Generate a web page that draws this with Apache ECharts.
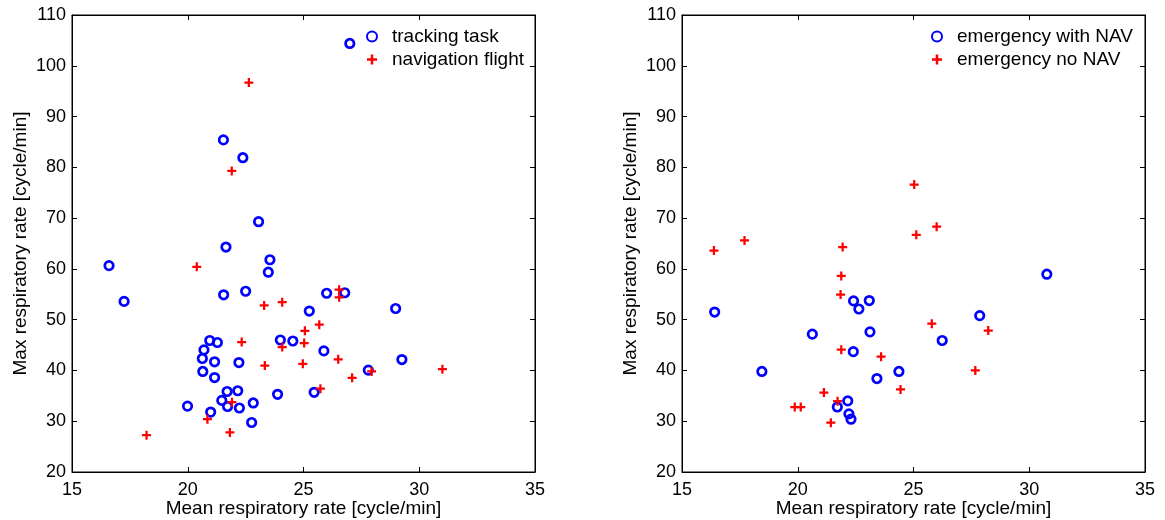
<!DOCTYPE html>
<html>
<head>
<meta charset="utf-8">
<script src="https://cdn.jsdelivr.net/npm/echarts@6/dist/echarts.min.js"></script>
<style>
html,body{margin:0;padding:0;background:#fff;}
#main{width:1165px;height:520px;}
</style>
</head>
<body>
<div id="main"></div>
<script>
// 数据: [平均呼吸频率, 最大呼吸频率]
var trackingTask = [
    [27.0,104.4],[21.54,85.4],[22.38,81.9],[23.06,69.3],[21.65,64.3],[23.55,61.8],
    [16.6,60.65],[23.48,59.35],[17.25,53.6],[21.55,54.9],[22.5,55.6],[26.0,55.2],
    [26.78,55.3],[25.25,51.7],[28.98,52.2],[20.95,45.9],[21.28,45.5],[24.0,46.0],
    [24.54,45.8],[20.7,44.05],[25.88,43.85],[20.63,42.35],[21.16,41.7],[22.21,41.55],
    [29.25,42.15],[20.65,39.8],[21.16,38.6],[27.8,40.06],[21.7,35.85],[22.16,36.0],
    [23.88,35.3],[25.46,35.7],[21.47,34.1],[22.83,33.6],[19.99,32.97],[21.72,32.9],
    [22.23,32.6],[20.99,31.8],[22.76,29.75]
];
var navigationFlight = [
    [22.64,96.7],[21.9,79.3],[20.39,60.4],[26.54,55.9],[26.54,54.4],[23.3,52.8],
    [24.08,53.45],[25.68,49.0],[25.06,47.8],[22.33,45.6],[25.03,45.4],[24.08,44.6],
    [23.33,40.96],[24.97,41.3],[26.5,42.2],[27.94,39.8],[27.1,38.54],[31.0,40.25],
    [25.73,36.4],[21.91,33.76],[20.85,30.4],[21.82,27.8],[18.22,27.26]
];
var emergencyNav = [
    [30.76,58.95],[22.41,53.7],[23.09,53.76],[22.64,52.1],[16.41,51.5],[27.86,50.8],
    [20.63,47.15],[23.12,47.6],[26.24,45.9],[22.4,43.7],[18.45,39.8],[24.37,39.8],
    [23.42,38.4],[22.16,34.0],[21.71,32.8],[22.21,31.45],[22.3,30.4]
];
var emergencyNoNav = [
    [25.03,76.6],[26.0,68.3],[25.12,66.7],[17.7,65.6],[16.38,63.6],[21.94,64.3],
    [21.88,58.6],[21.85,54.95],[25.79,49.2],[28.23,47.85],[21.88,44.1],[23.6,42.7],
    [27.67,40.0],[24.44,36.25],[21.13,35.65],[21.72,33.95],[19.87,32.8],[20.13,32.8],
    [21.43,29.7]
];
var xName = "Mean respiratory rate [cycle/min]";
var yName = "Max respiratory rate [cycle/min]";

var FONT = "'Liberation Sans', Arial, sans-serif";
var PLUS = "path://M3,0h2v3h3v2h-3v3h-2v-3h-3v-2h3z";

var myChart = echarts.init(document.getElementById("main"));

function mainX(idx){
    return {
        type:"value", gridIndex:idx, min:15, max:35, interval:5, position:"bottom",
        name:xName, nameLocation:"middle", nameGap:27, nameMoveOverlap:false,
        nameTextStyle:{fontFamily:FONT, fontSize:19, color:"#000"},
        axisLine:{show:true, onZero:false, lineStyle:{color:"#000", width:1}},
        axisTick:{show:true, inside:true, length:5, lineStyle:{color:"#000"}},
        axisLabel:{fontFamily:FONT, fontSize:18, color:"#000", margin:9},
        splitLine:{show:false}
    };
}
function topX(idx){
    return {
        type:"value", gridIndex:idx, min:15, max:35, interval:5, position:"top",
        axisLine:{show:true, onZero:false, lineStyle:{color:"#000", width:1}},
        axisTick:{show:true, inside:true, length:5, lineStyle:{color:"#000"}},
        axisLabel:{show:false}, splitLine:{show:false}
    };
}
function mainY(idx){
    return {
        type:"value", gridIndex:idx, min:20, max:110, interval:10, position:"left",
        name:yName, nameLocation:"middle", nameGap:42, nameRotate:90, nameMoveOverlap:false,
        nameTextStyle:{fontFamily:FONT, fontSize:19, color:"#000"},
        axisLine:{show:true, onZero:false, lineStyle:{color:"#000", width:1}},
        axisTick:{show:true, inside:true, length:5, lineStyle:{color:"#000"}},
        axisLabel:{fontFamily:FONT, fontSize:18, color:"#000", margin:6},
        splitLine:{show:false}
    };
}
function rightY(idx){
    return {
        type:"value", gridIndex:idx, min:20, max:110, interval:10, position:"right",
        axisLine:{show:true, onZero:false, lineStyle:{color:"#000", width:1}},
        axisTick:{show:true, inside:true, length:5, lineStyle:{color:"#000"}},
        axisLabel:{show:false}, splitLine:{show:false}
    };
}
function circleSerie(name, data, xi, yi){
    return {
        name:name, type:"scatter", xAxisIndex:xi, yAxisIndex:yi, data:data,
        symbol:"circle", symbolSize:8.5,
        itemStyle:{color:"rgba(0,0,0,0)", borderColor:"#0000ff", borderWidth:2.7, opacity:1},
        emphasis:{disabled:true}
    };
}
function plusSerie(name, data, xi, yi){
    return {
        name:name, type:"scatter", xAxisIndex:xi, yAxisIndex:yi, data:data,
        symbol:PLUS, symbolSize:9,
        itemStyle:{color:"#ff0000", opacity:1},
        emphasis:{disabled:true}
    };
}

var option = {
    animation:false,
    backgroundColor:"#fff",
    grid:[
        {left:72, top:15, width:463, height:457, show:true, borderColor:"#000", borderWidth:1, outerBoundsMode:"none"},
        {left:682, top:15, width:463, height:457, show:true, borderColor:"#000", borderWidth:1, outerBoundsMode:"none"}
    ],
    legend:[
        {
            data:[{name:"tracking task", icon:"circle"},{name:"navigation flight", icon:PLUS}],
            orient:"vertical", left:361, top:22, itemGap:4, itemWidth:10, itemHeight:10,
            textStyle:{fontFamily:FONT, fontSize:19, color:"#000", padding:[0,0,0,10]}
        },
        {
            data:[{name:"emergency with NAV", icon:"circle"},{name:"emergency no NAV", icon:PLUS}],
            orient:"vertical", left:926, top:22, itemGap:4, itemWidth:10, itemHeight:10,
            textStyle:{fontFamily:FONT, fontSize:19, color:"#000", padding:[0,0,0,10]}
        }
    ],
    xAxis:[mainX(0), topX(0), mainX(1), topX(1)],
    yAxis:[mainY(0), rightY(0), mainY(1), rightY(1)],
    series:[
        circleSerie("tracking task", trackingTask, 0, 0),
        plusSerie("navigation flight", navigationFlight, 0, 0),
        circleSerie("emergency with NAV", emergencyNav, 2, 2),
        plusSerie("emergency no NAV", emergencyNoNav, 2, 2)
    ]
};
myChart.setOption(option);
</script>
</body>
</html>
